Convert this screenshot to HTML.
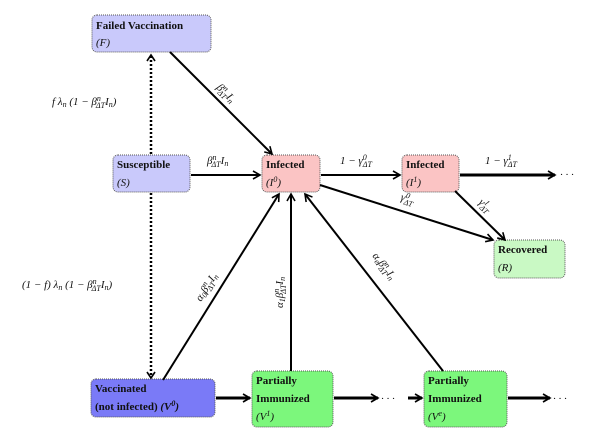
<!DOCTYPE html>
<html><head><meta charset="utf-8"><style>
body{margin:0;background:#fff;}
svg{display:block;}
.b{font-family:"Liberation Serif",serif;font-weight:bold;font-size:11px;fill:#111;}
.m{font-family:"Liberation Serif",serif;font-style:italic;font-size:11px;fill:#111;}
.s{font-size:8px;}
</style></head><body>
<svg width="604" height="436" viewBox="0 0 604 436" xmlns="http://www.w3.org/2000/svg">
<defs>
<marker id="a" markerWidth="10" markerHeight="10" refX="8" refY="5" orient="auto" markerUnits="userSpaceOnUse">
<path d="M1,1 L8,5 L1,9" fill="none" stroke="#000" stroke-width="1.6"/></marker>
</defs>
<!-- boxes -->
<g stroke="#555" stroke-dasharray="1,1" stroke-width="1">
<rect x="92" y="15" width="119" height="37" rx="5" fill="#c9c9fb"/>
<rect x="113" y="155" width="77" height="37" rx="5" fill="#c9c9fb"/>
<rect x="262" y="155" width="58" height="37" rx="5" fill="#fbc4c4"/>
<rect x="402" y="155" width="57" height="37" rx="5" fill="#fbc4c4"/>
<rect x="494" y="240" width="71" height="38" rx="5" fill="#c9f9c4"/>
<rect x="91" y="379" width="124" height="38" rx="5" fill="#7a7af7"/>
<rect x="252" y="371" width="81" height="56" rx="5" fill="#7cf77c"/>
<rect x="424" y="371" width="83" height="56" rx="5" fill="#7cf77c"/>
</g>
<!-- box text -->
<text class="b" x="96" y="29">Failed Vaccination</text>
<text class="m" x="96" y="46">(F)</text>
<text class="b" x="117" y="168">Susceptible</text>
<text class="m" x="117" y="186">(S)</text>
<text class="b" x="266" y="168">Infected</text>
<text class="m" x="266" y="186">(I<tspan class="s" dy="-4">0</tspan><tspan dy="4">)</tspan></text>
<text class="b" x="406" y="168">Infected</text>
<text class="m" x="406" y="186">(I<tspan class="s" dy="-4">1</tspan><tspan dy="4">)</tspan></text>
<text class="b" x="498" y="253">Recovered</text>
<text class="m" x="498" y="271">(R)</text>
<text class="b" x="95" y="392">Vaccinated</text>
<text class="b" x="95" y="410">(not infected) <tspan class="m">(V<tspan class="s" dy="-4">0</tspan><tspan dy="4">)</tspan></tspan></text>
<text class="b" x="256" y="384">Partially</text>
<text class="b" x="256" y="402">Immunized</text>
<text class="m" x="256" y="420">(V<tspan class="s" dy="-4">1</tspan><tspan dy="4">)</tspan></text>
<text class="b" x="428" y="384">Partially</text>
<text class="b" x="428" y="402">Immunized</text>
<text class="m" x="428" y="420">(V<tspan class="s" dy="-4">e</tspan><tspan dy="4">)</tspan></text>
<!-- dotted -->
<g stroke="#000" stroke-width="2.5" stroke-dasharray="2,2" fill="none">
<line x1="151" y1="154" x2="151" y2="56"/>
<line x1="151" y1="193" x2="151" y2="376"/>
</g>
<g stroke="#000" stroke-width="1.6" fill="none">
<path d="M147,61 L151,55 L155,61"/>
<path d="M147,372 L151,378 L155,372"/>
</g>
<!-- solid arrows -->
<g stroke="#000" stroke-width="2" fill="none" marker-end="url(#a)">
<line x1="191" y1="175" x2="260" y2="175"/>
<line x1="321" y1="175" x2="400" y2="175"/>
<line x1="460" y1="175" x2="555" y2="175" stroke-width="3"/>
<line x1="170" y1="52" x2="272" y2="154"/>
<line x1="320" y1="185" x2="493" y2="240"/>
<line x1="455" y1="191" x2="505" y2="240"/>
<line x1="163" y1="380" x2="279" y2="194"/>
<line x1="291" y1="371" x2="291" y2="194"/>
<line x1="443" y1="371" x2="305" y2="194"/>
<line x1="216" y1="398" x2="250" y2="398" stroke-width="3"/>
<line x1="334" y1="398" x2="378" y2="398" stroke-width="3"/>
<line x1="408" y1="398" x2="422" y2="398" stroke-width="3"/>
<line x1="508" y1="398" x2="550" y2="398" stroke-width="3"/>
</g>
<text class="m" x="560" y="178">· · ·</text>
<text class="m" x="381" y="402">· · ·</text>
<text class="m" x="553" y="402">· · ·</text>
<!-- labels -->
<text class="m" x="52" y="105">f λ<tspan class="s" dy="2">n</tspan><tspan dy="-2"> (1 − β</tspan><tspan class="s" dy="-4">n</tspan><tspan class="s" dx="-5" dy="7">ΔT</tspan><tspan dy="-3">I</tspan><tspan class="s" dy="2">n</tspan><tspan dy="-2">)</tspan></text>
<text class="m" x="22" y="288">(1 − f) λ<tspan class="s" dy="2">n</tspan><tspan dy="-2"> (1 − β</tspan><tspan class="s" dy="-4">n</tspan><tspan class="s" dx="-5" dy="7">ΔT</tspan><tspan dy="-3">I</tspan><tspan class="s" dy="2">n</tspan><tspan dy="-2">)</tspan></text>
<text class="m" x="207" y="164">β<tspan class="s" dy="-4">n</tspan><tspan class="s" dx="-5" dy="7">ΔT</tspan><tspan dy="-3">I</tspan><tspan class="s" dy="2">n</tspan></text>
<text class="m" x="340" y="164">1 − γ<tspan class="s" dy="-4">0</tspan><tspan class="s" dx="-4" dy="7">ΔT</tspan></text>
<text class="m" x="485" y="164">1 − γ<tspan class="s" dy="-4">1</tspan><tspan class="s" dx="-4" dy="7">ΔT</tspan></text>
<text class="m" transform="translate(216,88) rotate(45)">β<tspan class="s" dy="-4">n</tspan><tspan class="s" dx="-5" dy="7">ΔT</tspan><tspan dy="-3">I</tspan><tspan class="s" dy="2">n</tspan></text>
<text class="m" transform="translate(400,200) rotate(18)">γ<tspan class="s" dy="-4">0</tspan><tspan class="s" dx="-4" dy="7">ΔT</tspan></text>
<text class="m" transform="translate(478,203) rotate(45)">γ<tspan class="s" dy="-4">1</tspan><tspan class="s" dx="-4" dy="7">ΔT</tspan></text>
<text class="m" transform="translate(201,302) rotate(-58)">α<tspan class="s" dy="2">0</tspan><tspan dy="-2">β</tspan><tspan class="s" dy="-4">n</tspan><tspan class="s" dx="-5" dy="7">ΔT</tspan><tspan dy="-3">I</tspan><tspan class="s" dy="2">n</tspan></text>
<text class="m" transform="translate(283,308) rotate(-90)">α<tspan class="s" dy="2">1</tspan><tspan dy="-2">β</tspan><tspan class="s" dy="-4">n</tspan><tspan class="s" dx="-5" dy="7">ΔT</tspan><tspan dy="-3">I</tspan><tspan class="s" dy="2">n</tspan></text>
<text class="m" transform="translate(372,256) rotate(52)">α<tspan class="s" dy="2">e</tspan><tspan dy="-2">β</tspan><tspan class="s" dy="-4">n</tspan><tspan class="s" dx="-5" dy="7">ΔT</tspan><tspan dy="-3">I</tspan><tspan class="s" dy="2">n</tspan></text>
</svg>
</body></html>
